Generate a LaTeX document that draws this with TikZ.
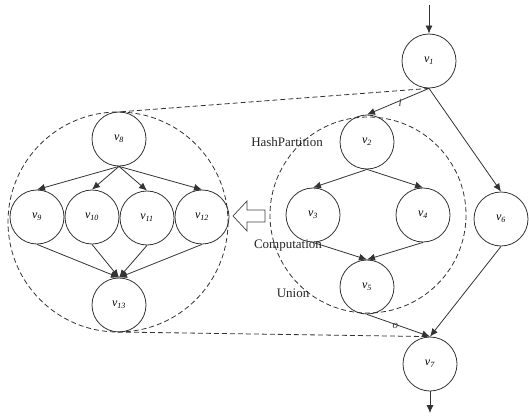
\documentclass[tikz,border=0pt]{standalone}
\usepackage{fontspec}
\setmainfont{Liberation Serif}
\usetikzlibrary{arrows.meta}
\newcommand\vlab[1]{\textit{v}\textsubscript{\textit{#1}}}
\begin{document}
\begin{tikzpicture}[x=1pt,y=-1pt,
  task/.style={circle,draw=black!80,line width=0.8pt,minimum size=54pt,inner sep=0pt,font=\fontsize{12}{14}\selectfont},
  flow/.style={draw=black!80,line width=0.8pt,-{Latex[length=8pt,width=7pt]}},
  group/.style={draw=black!80,line width=0.8pt,dash pattern=on 5pt off 3pt},
  phase/.style={font=\fontsize{13}{15}\selectfont,text=black!85,inner sep=1pt},
  elab/.style={font=\fontsize{11}{13}\selectfont\itshape,text=black!80,inner sep=1pt}]
\useasboundingbox (0,0) rectangle (529,417);

% grouping circles
\draw[group] (368,215) circle (98);
\draw[group] (118,222) circle (110);

% nodes of the main graph
\node[task] (v1) at (429,61) {\vlab{1}};
\node[task] (v2) at (367,142) {\vlab{2}};
\node[task] (v3) at (313,215) {\vlab{3}};
\node[task] (v4) at (423,215) {\vlab{4}};
\node[task] (v5) at (367,287) {\vlab{5}};
\node[task] (v6) at (501,219) {\vlab{6}};
\node[task] (v7) at (430,364) {\vlab{7}};

% nodes of the expanded sub-graph
\node[task] (v8) at (119,139) {\vlab{8}};
\node[task] (v9) at (37,217) {\vlab{9}};
\node[task] (v10) at (92,217) {\vlab{10}};
\node[task] (v11) at (147,218) {\vlab{11}};
\node[task] (v12) at (202,217) {\vlab{12}};
\node[task] (v13) at (119,305) {\vlab{13}};

% zoom guide lines
\coordinate (ltop) at (118,112);
\coordinate (lbot) at (118,332);
\draw[group] (v1.south) -- (ltop);
\draw[group] (lbot) -- (v7.north);

% entry and exit
\coordinate (src) at (429,5);
\coordinate (snk) at (430,413);
\draw[flow] (src) -- (v1.north);
\draw[flow] (v7.south) -- (snk);

% main graph edges
\draw[flow] (v1.south) -- node[elab,pos=0.45,below left=-2pt] {i} (v2.north);
\draw[flow] (v1.south) -- (v6.north);
\draw[flow] (v2.south) -- (v3.north);
\draw[flow] (v2.south) -- (v4.north);
\draw[flow] (v3.south) -- (v5.north);
\draw[flow] (v4.south) -- (v5.north);
\draw[flow] (v5.south) -- node[elab,pos=0.47,below left=-3pt] {o} (v7.north);
\draw[flow] (v6.south) -- (v7.north);

% sub-graph edges
\foreach \t in {v9,v10,v11,v12} {
  \draw[flow] (v8.south) -- (\t.north);
  \draw[flow] (\t.south) -- (v13.north);
}

% phase labels
\node[phase] (hp) at (287,142) {HashPartition};
\node[phase] (cp) at (288,246) {Computation};
\node[phase] (un) at (293,293) {Union};

% hollow arrow pointing to the expanded view
\draw[draw=black!75,line width=0.7pt,fill=white]
  (233,216) -- (247,201) -- (247,210) -- (265,210) -- (265,222) -- (247,222) -- (247,231) -- cycle;
\end{tikzpicture}
\end{document}
